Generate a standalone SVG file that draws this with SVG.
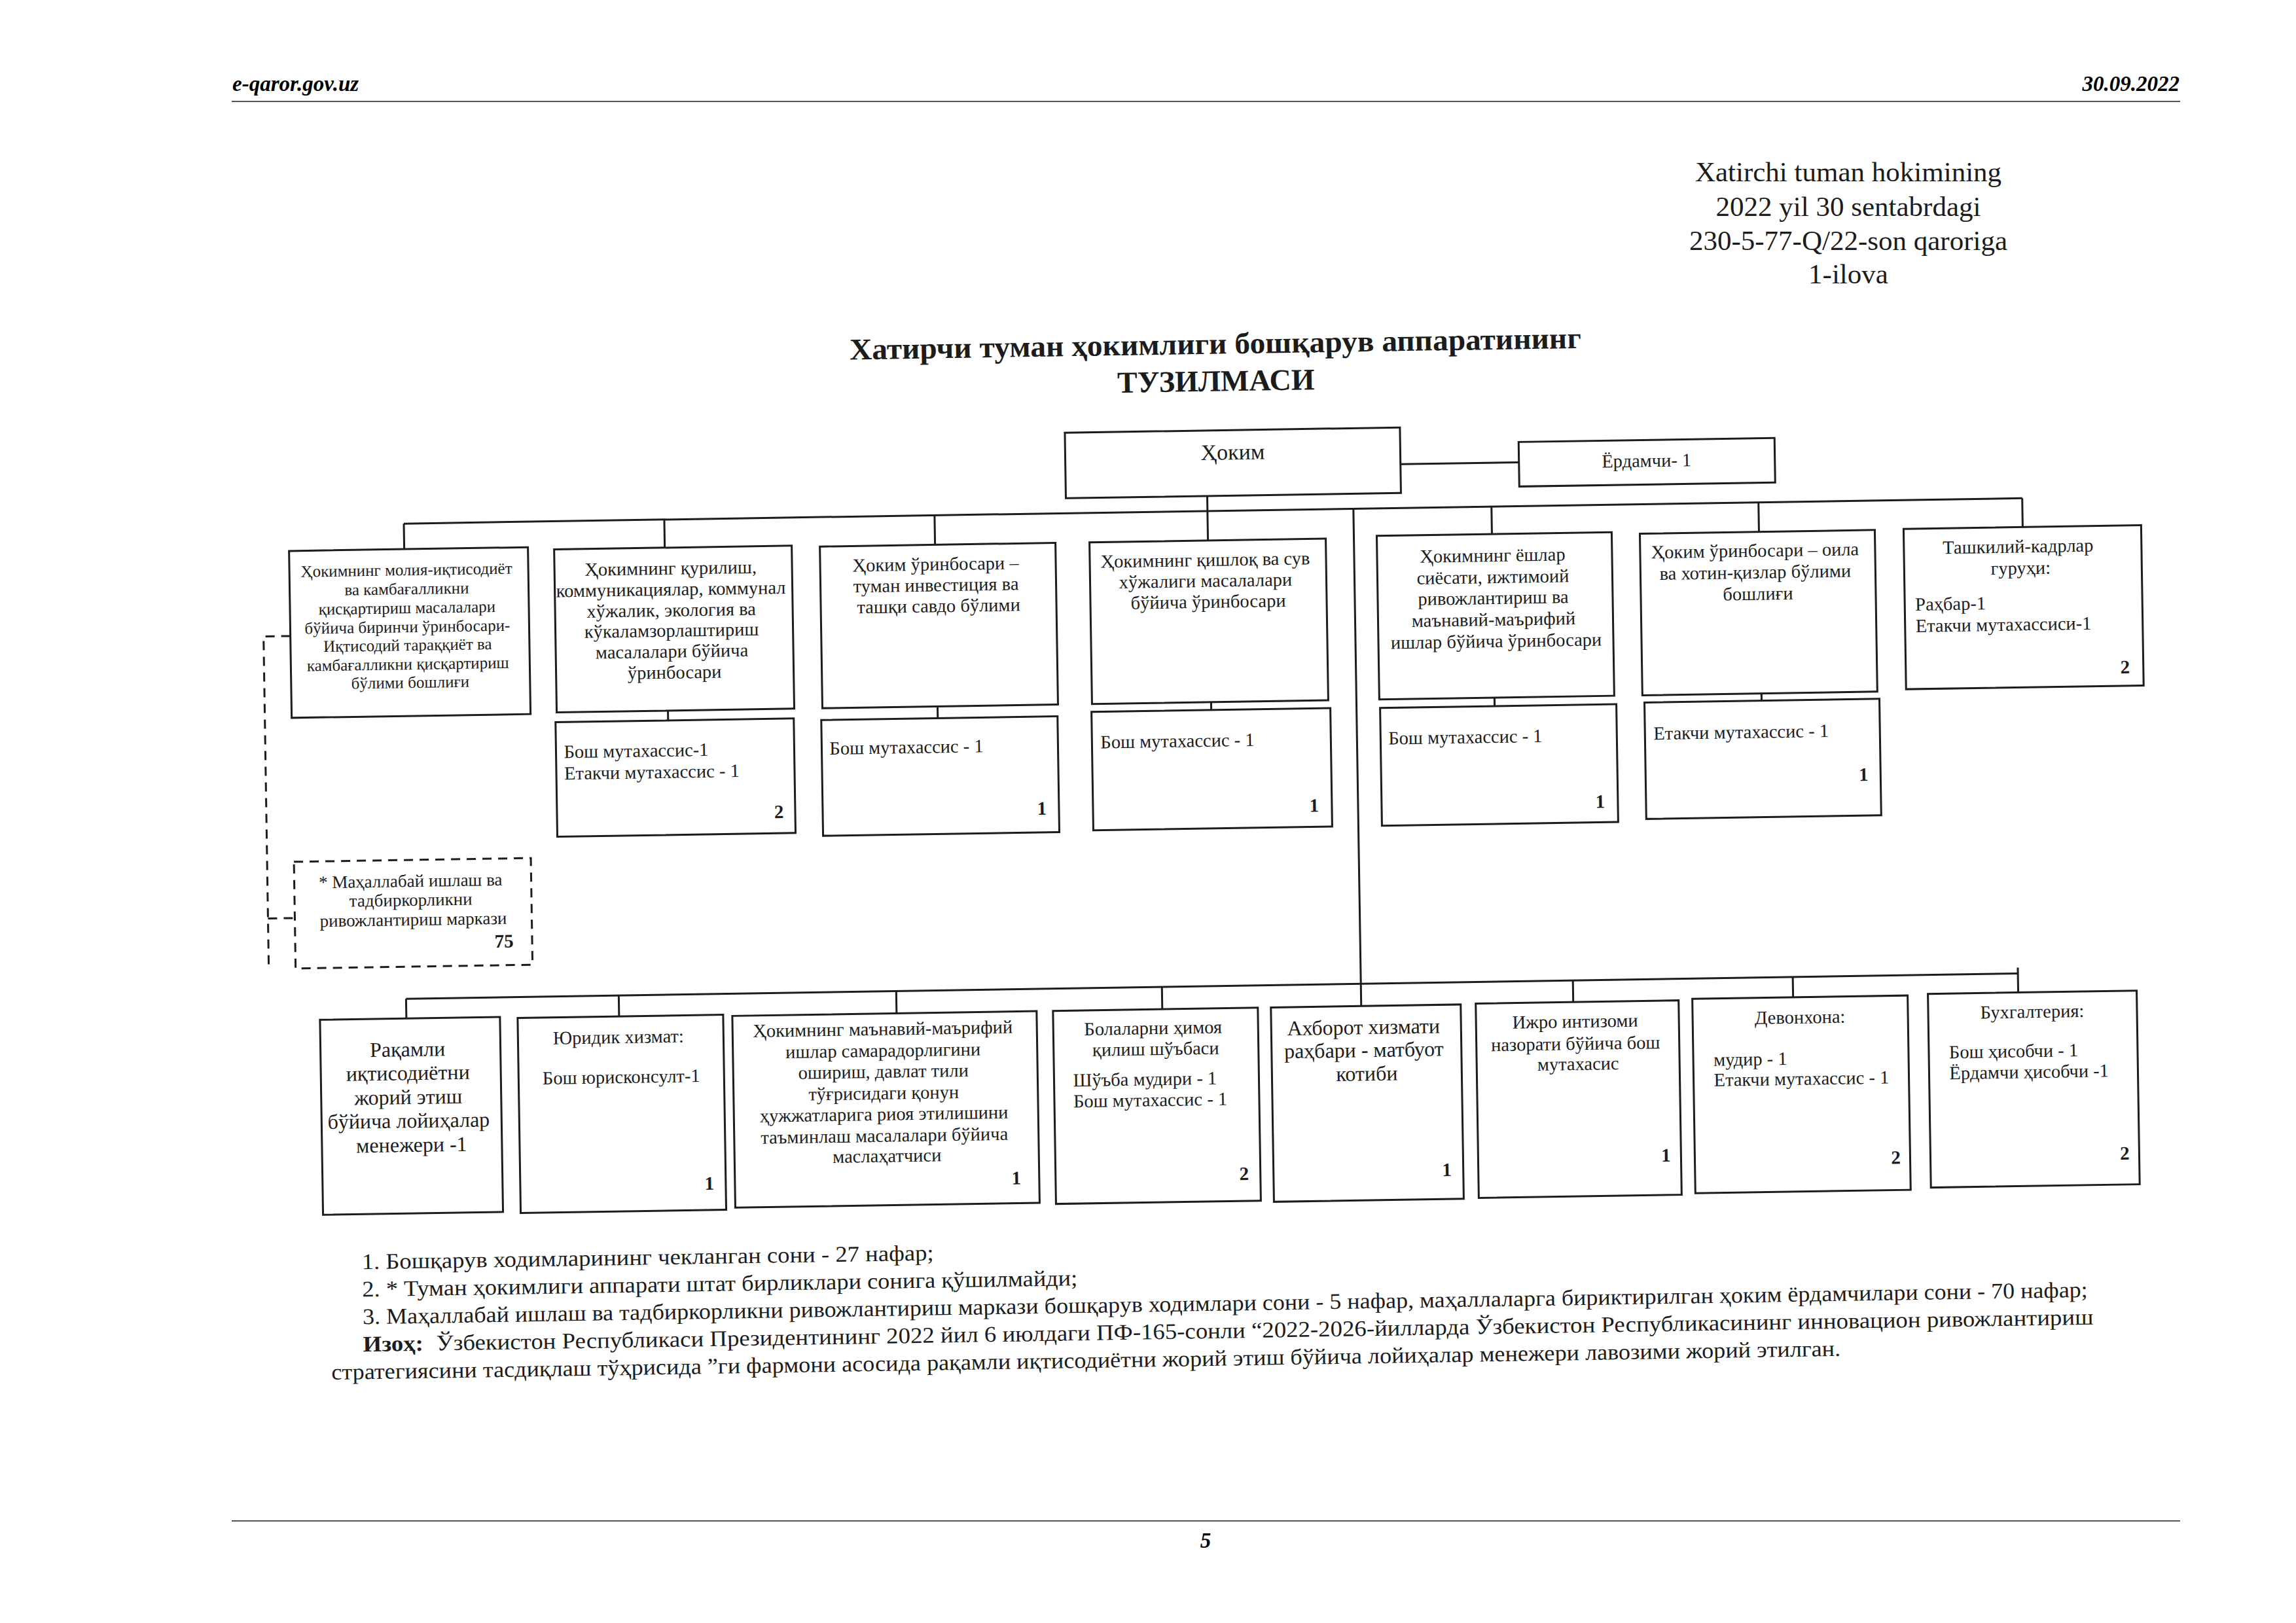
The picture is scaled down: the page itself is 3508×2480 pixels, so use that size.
<svg xmlns="http://www.w3.org/2000/svg" width="3508" height="2480" viewBox="0 0 3508 2480">
<style>
.box{fill:#fff;stroke:#1c1c1c;stroke-width:3}
.dbox{fill:#fff;stroke:#1c1c1c;stroke-width:3;stroke-dasharray:14 10}
.ln{fill:none;stroke:#1c1c1c;stroke-width:3}
.dl{fill:none;stroke:#1c1c1c;stroke-width:3;stroke-dasharray:14 10}
.hl{fill:none;stroke:#555;stroke-width:2}
text{font-family:"Liberation Serif","DejaVu Serif",serif;fill:#1c1c1c}
.t{font-size:28.5px}
.s{font-size:25px}
.l{font-size:32px}
.c{text-anchor:middle}
.n{font-weight:bold;font-size:29px;text-anchor:middle}
.hd{font-size:33px;font-weight:bold;font-style:italic;fill:#000}
.fn{font-size:34px}
</style>
<rect x="0" y="0" width="3508" height="2480" fill="#fff"/>

<g id="header">
<text class="hd" x="355" y="139">e-qaror.gov.uz</text>
<text class="hd" x="3330" y="139" text-anchor="end">30.09.2022</text>
<line class="hl" x1="354" y1="155" x2="3331" y2="155"/>
</g>

<g id="annex" class="c" font-size="43">
<text x="2824" y="277" fill="#222">Xatirchi tuman hokimining</text>
<text x="2824" y="330" fill="#222">2022 yil 30 sentabrdagi</text>
<text x="2824" y="382" fill="#222">230-5-77-Q/22-son qaroriga</text>
<text x="2824" y="433" fill="#222">1-ilova</text>
</g>

<g id="scan" transform="rotate(-0.9 1840 1300)">
<g id="title" font-weight="bold" font-size="46">
<text x="1869" y="541" text-anchor="middle" textLength="1118" lengthAdjust="spacingAndGlyphs">Хатирчи туман ҳокимлиги бошқарув аппаратининг</text>
<text x="1869" y="598" text-anchor="middle">ТУЗИЛМАСИ</text>
</g>

<g id="connectors">
<path class="ln" d="M2149 714H2330"/>
<path class="ln" d="M1853 758V826"/>
<path class="ln" d="M625 781H3098"/>
<path class="ln" d="M625 781V820M1023 781V824M1436 781V826M2287 781V823M2695 781V826M3098 781V825"/>
<path class="ln" d="M2076 781V1541"/>
<path class="ln" d="M1024 1073V1088M1436 1073V1091M1854 1073V1085M2287 1073V1086M2695 1073V1084"/>
<path class="ln" d="M617 1507H3081"/>
<path class="ln" d="M617 1507V1537M942 1507V1539M1366 1507V1541M1772 1507V1541M2400 1507V1540M2736 1507V1538M3080 1498V1536"/>
<path class="dl" d="M449 950H408V1460M408 1381H449"/>
</g>

<g id="hokim">
<rect class="box" x="1637" y="658" width="512" height="100"/>
<text x="1893" y="703" font-size="34" text-anchor="middle">Ҳоким</text>
</g>
<g id="yordamchi">
<rect class="box" x="2330" y="683" width="391" height="68"/>
<text class="t c" x="2525" y="724">Ёрдамчи- 1</text>
</g>

<g id="t1">
<rect class="box" x="449" y="820" width="365" height="255"/>
<text class="s c">
<tspan x="631" y="860">Ҳокимнинг молия-иқтисодиёт</tspan>
<tspan x="631" y="889">ва камбағалликни</tspan>
<tspan x="631" y="918">қисқартириш масалалари</tspan>
<tspan x="631" y="947">бўйича биринчи ўринбосари-</tspan>
<tspan x="631" y="975">Иқтисодий тараққиёт ва</tspan>
<tspan x="631" y="1004">камбағалликни қисқартириш</tspan>
<tspan x="631" y="1032">бўлими бошлиғи</tspan>
</text>
</g>
<g id="t2">
<rect class="box" x="854" y="824" width="363" height="249"/>
<text class="t c">
<tspan x="1035" y="865">Ҳокимнинг қурилиш,</tspan>
<tspan x="1035" y="897">коммуникациялар, коммунал</tspan>
<tspan x="1035" y="929">хўжалик, экология ва</tspan>
<tspan x="1035" y="960">кўкаламзорлаштириш</tspan>
<tspan x="1035" y="992">масалалари бўйича</tspan>
<tspan x="1035" y="1024">ўринбосари</tspan>
</text>
</g>
<g id="t3">
<rect class="box" x="1260" y="826" width="360" height="247"/>
<text class="t c">
<tspan x="1440" y="865">Ҳоким ўринбосари –</tspan>
<tspan x="1440" y="897">туман инвестиция ва</tspan>
<tspan x="1440" y="929">ташқи савдо бўлими</tspan>
</text>
</g>
<g id="t4">
<rect class="box" x="1672" y="826" width="361" height="247"/>
<text class="t c">
<tspan x="1852" y="865">Ҳокимнинг қишлоқ ва сув</tspan>
<tspan x="1852" y="897">хўжалиги масалалари</tspan>
<tspan x="1852" y="929">бўйича ўринбосари</tspan>
</text>
</g>
<g id="t5">
<rect class="box" x="2111" y="823" width="359" height="250"/>
<text class="t c">
<tspan x="2291" y="865">Ҳокимнинг ёшлар</tspan>
<tspan x="2291" y="898">сиёсати, ижтимоий</tspan>
<tspan x="2291" y="930">ривожлантириш ва</tspan>
<tspan x="2291" y="963">маънавий-маърифий</tspan>
<tspan x="2291" y="996">ишлар бўйича ўринбосари</tspan>
</text>
</g>
<g id="t6">
<rect class="box" x="2513" y="826" width="359" height="247"/>
<text class="t c">
<tspan x="2692" y="864">Ҳоким ўринбосари – оила</tspan>
<tspan x="2692" y="897">ва хотин-қизлар бўлими</tspan>
<tspan x="2692" y="930">бошлиғи</tspan>
</text>
</g>
<g id="t7">
<rect class="box" x="2916" y="825" width="363" height="245"/>
<text class="t c">
<tspan x="3094" y="864">Ташкилий-кадрлар</tspan>
<tspan x="3094" y="897">гуруҳи:</tspan>
</text>
<text class="t">
<tspan x="2932" y="950">Раҳбар-1</tspan>
<tspan x="2932" y="983">Етакчи мутахассиси-1</tspan>
</text>
<text class="n" x="3251" y="1051">2</text>
</g>

<g id="s2">
<rect class="box" x="852" y="1088" width="364" height="175"/>
<text class="t">
<tspan x="864" y="1143">Бош мутахассис-1</tspan>
<tspan x="864" y="1176">Етакчи мутахассис - 1</tspan>
</text>
<text class="n" x="1191" y="1240">2</text>
</g>
<g id="s3">
<rect class="box" x="1258" y="1091" width="361" height="177"/>
<text class="t" x="1270" y="1144">Бош мутахассис - 1</text>
<text class="n" x="1593" y="1241">1</text>
</g>
<g id="s4">
<rect class="box" x="1671" y="1085" width="365" height="181"/>
<text class="t" x="1684" y="1141">Бош мутахассис - 1</text>
<text class="n" x="2009" y="1243">1</text>
</g>
<g id="s5">
<rect class="box" x="2112" y="1086" width="361" height="180"/>
<text class="t" x="2124" y="1142">Бош мутахассис - 1</text>
<text class="n" x="2446" y="1244">1</text>
</g>
<g id="s6">
<rect class="box" x="2516" y="1084" width="359" height="178"/>
<text class="t" x="2529" y="1141">Етакчи мутахассис - 1</text>
<text class="n" x="2849" y="1209">1</text>
</g>

<g id="mahalla">
<rect class="dbox" x="449" y="1295" width="362" height="163"/>
<text class="c" font-size="27">
<tspan x="630" y="1336">* Маҳаллабай ишлаш ва</tspan>
<tspan x="630" y="1365">тадбиркорликни</tspan>
<tspan x="630" y="1395">ривожлантириш маркази</tspan>
</text>
<text class="n" x="768" y="1431">75</text>
</g>

<g id="b1">
<rect class="box" x="485" y="1537" width="275" height="298"/>
<text class="l c">
<tspan x="622" y="1595">Рақамли</tspan>
<tspan x="622" y="1631">иқтисодиётни</tspan>
<tspan x="622" y="1668">жорий этиш</tspan>
<tspan x="622" y="1704">бўйича лойиҳалар</tspan>
<tspan x="622" y="1741">менежери -1</tspan>
</text>
</g>
<g id="b2">
<rect class="box" x="787" y="1539" width="314" height="298"/>
<text class="t c">
<tspan x="944" y="1580">Юридик хизмат:</tspan>
<tspan x="944" y="1641">Бош юрисконсулт-1</tspan>
</text>
<text class="n" x="1076" y="1806">1</text>
</g>
<g id="b3">
<rect class="box" x="1115" y="1541" width="465" height="293"/>
<text class="t c">
<tspan x="1348" y="1574">Ҳокимнинг маънавий-маърифий</tspan>
<tspan x="1348" y="1607">ишлар самарадорлигини</tspan>
<tspan x="1348" y="1639">ошириш, давлат тили</tspan>
<tspan x="1348" y="1672">тўғрисидаги қонун</tspan>
<tspan x="1348" y="1704">ҳужжатларига риоя этилишини</tspan>
<tspan x="1348" y="1737">таъминлаш масалалари бўйича</tspan>
<tspan x="1348" y="1768">маслаҳатчиси</tspan>
</text>
<text class="n" x="1545" y="1805">1</text>
</g>
<g id="b4">
<rect class="box" x="1605" y="1541" width="313" height="295"/>
<text class="t c">
<tspan x="1761" y="1579">Болаларни ҳимоя</tspan>
<tspan x="1761" y="1611">қилиш шўъбаси</tspan>
</text>
<text class="t">
<tspan x="1634" y="1657">Шўъба мудири - 1</tspan>
<tspan x="1634" y="1689">Бош мутахассис - 1</tspan>
</text>
<text class="n" x="1893" y="1804">2</text>
</g>
<g id="b5">
<rect class="box" x="1938" y="1541" width="290" height="297"/>
<text class="l c">
<tspan x="2083" y="1584">Ахборот хизмати</tspan>
<tspan x="2083" y="1619">раҳбари - матбуот</tspan>
<tspan x="2083" y="1655">котиби</tspan>
</text>
<text class="n" x="2203" y="1803">1</text>
</g>
<g id="b6">
<rect class="box" x="2251" y="1540" width="310" height="297"/>
<text class="t c">
<tspan x="2406" y="1579">Ижро интизоми</tspan>
<tspan x="2406" y="1613">назорати бўйича бош</tspan>
<tspan x="2406" y="1644">мутахасис</tspan>
</text>
<text class="n" x="2538" y="1786">1</text>
</g>
<g id="b7">
<rect class="box" x="2582" y="1538" width="329" height="297"/>
<text class="t c" x="2746" y="1578">Девонхона:</text>
<text class="t">
<tspan x="2613" y="1641">мудир - 1</tspan>
<tspan x="2613" y="1672">Етакчи мутахассис - 1</tspan>
</text>
<text class="n" x="2889" y="1795">2</text>
</g>
<g id="b8">
<rect class="box" x="2942" y="1536" width="319" height="296"/>
<text class="t c" x="3101" y="1575">Бухгалтерия:</text>
<text class="t">
<tspan x="2973" y="1635">Бош ҳисобчи - 1</tspan>
<tspan x="2973" y="1667">Ёрдамчи ҳисобчи -1</tspan>
</text>
<text class="n" x="3239" y="1794">2</text>
</g>

<g id="notes">
<text class="fn" x="543" y="1919" textLength="874" lengthAdjust="spacingAndGlyphs">1. Бошқарув ходимларининг чекланган сони - 27 нафар;</text>
<text class="fn" x="543" y="1961" textLength="1093" lengthAdjust="spacingAndGlyphs">2. * Туман ҳокимлиги аппарати штат бирликлари сонига қўшилмайди;</text>
<text class="fn" x="543" y="2003" textLength="2636" lengthAdjust="spacingAndGlyphs">3. Маҳаллабай ишлаш ва тадбиркорликни ривожлантириш маркази бошқарув ходимлари сони - 5 нафар, маҳаллаларга бириктирилган ҳоким ёрдамчилари сони - 70 нафар;</text>
<text class="fn" x="543" y="2045" font-weight="bold" textLength="92" lengthAdjust="spacingAndGlyphs">Изоҳ:</text>
<text class="fn" x="655" y="2045" textLength="2532" lengthAdjust="spacingAndGlyphs">Ўзбекистон Республикаси Президентининг 2022 йил 6 июлдаги ПФ-165-сонли “2022-2026-йилларда Ўзбекистон Республикасининг инновацион ривожлантириш</text>
<text class="fn" x="494" y="2087" textLength="2306" lengthAdjust="spacingAndGlyphs">стратегиясини тасдиқлаш тўҳрисида ”ги фармони асосида рақамли иқтисодиётни жорий этиш бўйича лойиҳалар менежери лавозими жорий этилган.</text>
</g>
</g>

<g id="footer">
<line class="hl" x1="354" y1="2324" x2="3331" y2="2324"/>
<text class="hd" x="1842" y="2365" text-anchor="middle">5</text>
</g>
</svg>
